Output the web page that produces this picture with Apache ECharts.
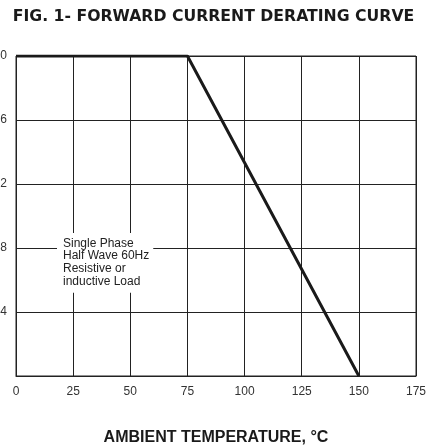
<!DOCTYPE html>
<html>
<head>
<meta charset="utf-8">
<script src="https://cdn.jsdelivr.net/npm/echarts@6/dist/echarts.min.js"></script>
<style>
html,body{margin:0;padding:0;background:#fff;}
#c{width:427px;height:446px;}
</style>
</head>
<body>
<div id="c"></div>
<script>
var temperatures = [0, 75, 150];
var currents = [2.0, 2.0, 0];
var xTicks = [0, 25, 50, 75, 100, 125, 150, 175];
var yTicks = [0, 0.4, 0.8, 1.2, 1.6, 2.0];
var noteLines = ['Single Phase', 'Half Wave 60Hz', 'Resistive or', 'inductive Load'];

var labelFont = '"Liberation Sans Narrow", "Liberation Sans", Arial, sans-serif';
var chart = echarts.init(document.getElementById('c'), null, {renderer: 'canvas'});
var option = {
  animation: false,
  backgroundColor: '#fff',
  title: [{
    text: 'FIG. 1- FORWARD CURRENT DERATING CURVE',
    left: 'center',
    top: 4,
    textStyle: {fontFamily: '"DejaVu Sans", sans-serif', fontWeight: 'bold', fontSize: 15.7, color: '#1a1a1a'}
  }, {
    text: noteLines.join('\n'),
    left: 57, top: 233, padding: [4, 4, 5, 6],
    backgroundColor: '#fff',
    z: 20,
    textStyle: {fontFamily: 'Arial, "Liberation Sans", sans-serif', fontWeight: 'normal', fontSize: 12, lineHeight: 12.7, color: '#222'}
  }],
  grid: {
    left: 16, right: 11, top: 56, bottom: 70,
    outerBoundsMode: 'none', containLabel: false,
    show: true, borderColor: '#222', borderWidth: 1, backgroundColor: 'transparent'
  },
  xAxis: {
    type: 'value',
    min: xTicks[0], max: xTicks[xTicks.length - 1], interval: 25,
    name: 'AMBIENT TEMPERATURE, °C',
    nameLocation: 'middle',
    nameGap: 54,
    nameTextStyle: {fontFamily: '"Liberation Sans", Arial, sans-serif', fontWeight: 'bold', fontSize: 16, color: '#1a1a1a'},
    axisLine: {show: true, lineStyle: {color: '#222', width: 1}},
    axisTick: {show: false},
    axisLabel: {margin: 10, fontFamily: labelFont, fontSize: 12, color: '#333'},
    splitLine: {show: true, lineStyle: {color: '#222', width: 1}}
  },
  yAxis: {
    type: 'value',
    min: yTicks[0], max: yTicks[yTicks.length - 1], interval: 0.4,
    axisLine: {show: true, lineStyle: {color: '#222', width: 1}},
    axisTick: {show: false},
    axisLabel: {
      margin: 9, showMinLabel: false,
      fontFamily: labelFont, fontSize: 12, color: '#333',
      formatter: function (v) { return v.toFixed(1); }
    },
    splitLine: {show: true, lineStyle: {color: '#222', width: 1}}
  },
  series: [{
    type: 'line',
    data: temperatures.map(function (t, i) { return [t, currents[i]]; }),
    symbol: 'none',
    lineStyle: {color: '#1a1a1a', width: 3},
    z: 5
  }]
};
chart.setOption(option);
</script>
</body>
</html>
